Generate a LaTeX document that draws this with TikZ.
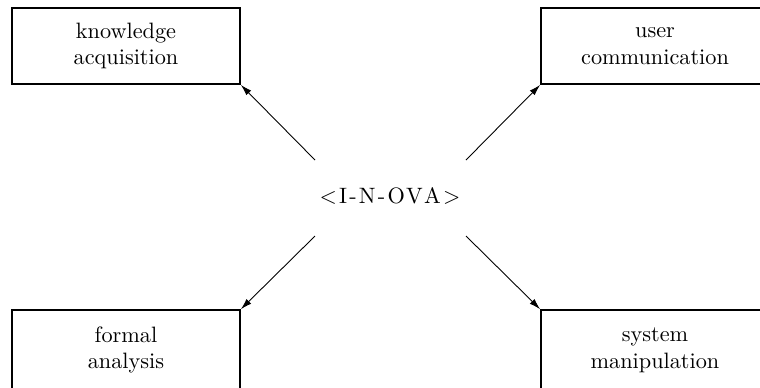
\documentclass[tikz,border=0pt]{standalone}
\usetikzlibrary{arrows.meta}
\definecolor{Ink}{HTML}{000000}
\begin{document}
\begin{tikzpicture}[x=0.0158cm,y=-0.0158cm,>={Latex[length=5pt,width=3pt]},
  every node/.style={text=Ink},
  task/.style={draw=Ink,line width=0.8pt,minimum width=3.6cm,minimum height=1.2cm,align=center,inner sep=0pt}]
\useasboundingbox (0,0) rectangle (760,387);
\clip (0,0) rectangle (760,387);
\node[task] (know) at (126,46){knowledge\\acquisition};
\node[task] (user) at (655,46){user\\communication};
\node[task,minimum height=1.26cm] (form) at (126,350){formal\\analysis};
\node[task,minimum height=1.26cm] (sys) at (655,350){system\\manipulation};
\node (inova) at (390,196){$<$\kern1pt I\kern1pt-\kern1pt N\kern1pt-\kern1pt O\kern.6pt V\kern.6pt A\kern1pt$>$};
\coordinate (kn0) at (315,160);\coordinate (us0) at (466,160);
\coordinate (fo0) at (315,236);\coordinate (sy0) at (466,236);
\draw[Ink,thin,->] (kn0)--(know.south east);
\draw[Ink,thin,->] (us0)--(user.south west);
\draw[Ink,thin,->] (fo0)--(form.north east);
\draw[Ink,thin,->] (sy0)--(sys.north west);
\end{tikzpicture}
\end{document}
